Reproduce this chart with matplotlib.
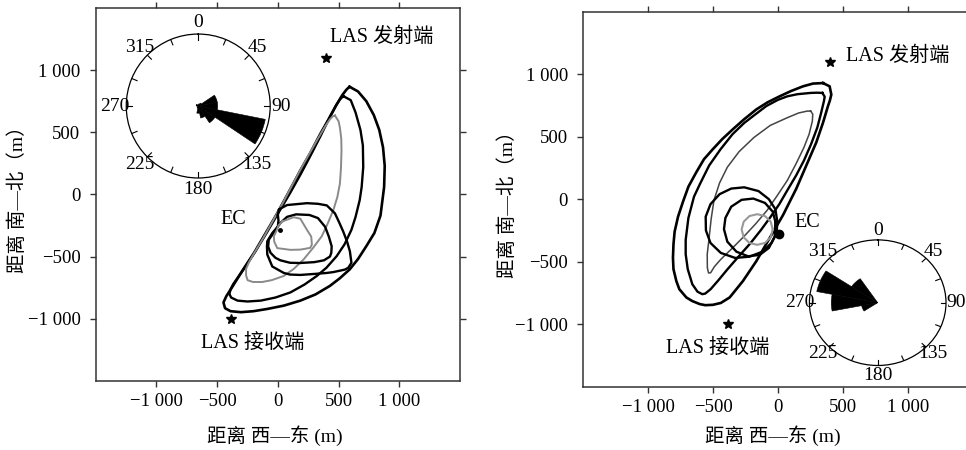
import numpy as np
import matplotlib.pyplot as plt

plt.rcParams['font.family'] = ['Liberation Serif', 'Noto Sans CJK SC']
plt.rcParams['font.size'] = 13.5

# axis ticks
ticks = [-1000, -500, 0, 500, 1000]
tick_labels = ['\u22121 000', '\u2212500', '0', '500', '1 000']

# LAS transmitter / receiver and EC tower (m)
las_tx = [400, 1100]
las_rx = [-385, -1000]
ec_a = [16, -285]
ec_b = [8, -280]

# ---- panel a : footprint contours (m) ----
a_outer_x = [590, 660, 728, 790, 835, 866, 880, 875, 845, 795, 728, 660, 592, 510, 429, 310, 185, 50, -87, -200,
             -304, -390, -435, -448, -425, -370, -290, -196, -100, -5, 90, 185, 270, 348, 420, 484, 530, 565, 590]
a_outer_y = [868, 830, 752, 640, 520, 380, 230, 60, -170, -310, -417, -520, -603, -675, -736, -805, -855, -895, -922, -940,
             -948, -940, -916, -870, -820, -736, -610, -470, -310, -151, 20, 194, 340, 486, 610, 725, 800, 845, 868]
a_mid_x = [538, 600, 640, 680, 700, 703, 690, 674, 640, 606, 550, 484, 400, 321, 220, 103, -20, -141, -250, -332,
           -385, -399, -390, -368, -287, -186, -90, 6, 101, 188, 264, 348, 427, 478, 511, 538]
a_mid_y = [793, 760, 660, 520, 395, 220, 60, -45, -180, -284, -400, -497, -590, -656, -725, -789, -830, -855, -862, -855,
           -830, -802, -765, -722, -610, -460, -305, -145, 12, 164, 304, 464, 622, 716, 765, 793]
a_gray_x = [470, 500, 511, 522, 524, 520, 511, 490, 457, 410, 361, 290, 212, 130, 49, -50, -130, -205, -250, -262,
            -262, -240, -200, -120, -40, 40, 110, 180, 260, 330, 390, 429, 450, 470]
a_gray_y = [636, 590, 539, 450, 353, 220, 88, -20, -125, -235, -337, -430, -523, -600, -656, -690, -705, -705, -690, -650,
            -600, -550, -480, -350, -210, -70, 60, 190, 330, 450, 550, 606, 628, 636]
a_ec1_x = [0, 8, 76, 240, 330, 403, 470, 505, 538, 570, 593, 606, 580, 552, 457, 403, 300, 185, 100, 49,
           -46, -87, -90, -87, -46, 0, 5, 0]
a_ec1_y = [-165, -120, -85, -70, -75, -88, -152, -225, -298, -380, -457, -550, -590, -605, -625, -632, -640, -648, -645, -632,
           -580, -484, -420, -377, -311, -258, -210, -165]
a_ec2_x = [-30, 20, 76, 150, 260, 330, 389, 420, 443, 440, 429, 380, 300, 180, 100, 20, -20, -60, -80, -75, -50, -30]
a_ec2_y = [-300, -230, -180, -160, -165, -190, -260, -340, -417, -470, -500, -530, -545, -552, -550, -530, -510, -470,
           -420, -364, -330, -300]
a_ec3_x = [35, 130, 185, 239, 275, 280, 266, 185, 104, -5, -30, -33, -10, 5, 35]
a_ec3_y = [-218, -183, -195, -284, -340, -404, -430, -444, -446, -432, -380, -337, -290, -250, -218]

# ---- panel b ----
b_outer_x = [347, 398, 411, 400, 385, 347, 295, 218, 141, 39, -64, -167, -270, -372, -440, -501, -560, -603, -660, -706,
             -760, -783, -805, -809, -805, -796, -770, -732, -690, -629, -570, -501, -430, -347, -260, -167, -80, 13,
             100, 193, 270, 347]
b_outer_y = [929, 903, 837, 790, 744, 612, 454, 269, 84, -127, -311, -496, -655, -786, -830, -845, -848, -839, -815, -786,
             -720, -655, -560, -470, -360, -259, -140, -21, 100, 216, 320, 401, 480, 560, 640, 718, 775, 823,
             865, 903, 925, 929]
b_mid_x = [342, 360, 354, 330, 303, 255, 200, 140, 72, 10, -56, -130, -211, -300, -390, -460, -519, -560, -583, -620,
           -660, -695, -711, -711, -690, -647, -600, -530, -442, -350, -260, -185, -90, 0, 72, 150, 250, 300, 342]
b_mid_y = [850, 820, 784, 680, 573, 440, 309, 190, 71, -40, -140, -245, -351, -455, -562, -650, -720, -755, -760, -740,
           -680, -560, -440, -325, -150, 20, 124, 270, 400, 520, 610, 670, 745, 795, 823, 840, 850, 852, 850]
b_gray_x = [252, 268, 265, 240, 200, 140, 72, -5, -82, -170, -262, -350, -442, -490, -519, -535, -544, -545, -532, -515,
            -493, -450, -390, -300, -185, -60, 72, 160, 226, 252]
b_gray_y = [705, 680, 625, 520, 414, 285, 150, 30, -87, -195, -298, -390, -483, -540, -589, -590, -549, -440, -325, -160,
            -8, 130, 256, 380, 494, 590, 652, 690, 705, 705]
b_ec1_x = [-5, -20, -70, -150, -260, -360, -450, -520, -557, -555, -520, -440, -330, -220, -120, -50, -10, -5]
b_ec1_y = [-180, -80, 0, 65, 95, 85, 40, -40, -140, -250, -350, -430, -470, -460, -420, -350, -270, -180]
b_ec2_x = [-20, -40, -100, -190, -280, -360, -405, -416, -390, -320, -230, -140, -70, -25, -20]
b_ec2_y = [-180, -100, -30, 5, -5, -60, -150, -240, -340, -420, -457, -445, -390, -300, -180]
b_ec3_x = [-40, -56, -100, -160, -220, -264, -280, -264, -220, -160, -100, -56, -40]
b_ec3_y = [-242, -180, -135, -120, -135, -180, -242, -305, -350, -365, -350, -305, -242]

# ---- wind roses (relative frequency) ----
rose_dirs = [0, 22.5, 45, 67.5, 90, 112.5, 135, 157.5, 180, 202.5, 225, 247.5, 270, 292.5, 315, 337.5]
rose_a = [0, 0.03, 0.05, 0.27, 0.27, 0.95, 0.28, 0.17, 0.1, 0.03, 0, 0, 0.02, 0.03, 0.03, 0]
rose_b = [0, 0, 0, 0, 0, 0, 0, 0, 0, 0, 0, 0.24, 0.68, 0.91, 0.46, 0]
rose_ticks = [0, 45, 90, 135, 180, 225, 270, 315]


def draw_main(ax, curves):
    for x, y, c, lw in curves:
        ax.plot(x, y, color=c, lw=lw, solid_joinstyle='round')
    ax.plot(*las_tx, marker='*', color='black', ms=7.5)
    ax.plot(*las_rx, marker='*', color='black', ms=7.5)
    ax.set_xlim(-1500, 1500)
    ax.set_ylim(-1500, 1500)
    ax.set_xticks(ticks, tick_labels)
    ax.set_yticks(ticks, tick_labels)
    ax.tick_params(top=True, right=True, direction='out', length=4, width=1, color='#333333')
    ax.tick_params(axis='x', pad=5)
    ax.tick_params(axis='y', pad=7)
    for s in ax.spines.values():
        s.set_color('#333333')
        s.set_linewidth(1.1)


def draw_rose(ax, vals, pad):
    th = np.deg2rad(rose_dirs)
    ax.bar(th, vals, width=np.deg2rad(22.5), bottom=0, color='black', edgecolor='black', lw=0.4)
    # short inward ticks on the rim
    for t in th:
        ax.plot([t, t], [0.92, 1.0], color='black', lw=0.8)
    ax.set_theta_zero_location('N')
    ax.set_theta_direction(-1)
    ax.set_ylim(0, 1)
    ax.set_yticks([])
    ax.set_xticks(np.deg2rad(rose_ticks), [str(t) for t in rose_ticks])
    ax.grid(False)
    ax.tick_params(axis='x', which='both', length=0, pad=pad, labelsize=14)
    ax.spines['polar'].set_linewidth(0.9)


fig = plt.figure(figsize=(9.66, 4.5), dpi=100)

ax1 = fig.add_axes([0.0991, 0.154, 0.3771, 0.8276])
draw_main(ax1, [
    (a_outer_x, a_outer_y, 'black', 1.9),
    (a_mid_x, a_mid_y, 'black', 1.7),
    (a_gray_x, a_gray_y, '#8a8a8a', 1.4),
    (a_ec1_x, a_ec1_y, 'black', 1.7),
    (a_ec2_x, a_ec2_y, 'black', 1.7),
    (a_ec3_x, a_ec3_y, '#8a8a8a', 1.4),
])
ax1.plot(*ec_a, 'o', color='black', ms=2.5)
ax1.text(430, 1270, 'LAS 发射端', ha='left', va='center', fontsize=14.5)
ax1.text(-636, -1200, 'LAS 接收端', ha='left', va='center', fontsize=14.5)
ax1.text(-370, -200, 'EC', ha='center', va='center', fontsize=14.5)
ax1.set_xlabel('距离 西—东 (m)', fontsize=14)
ax1.set_ylabel('距离 南—北（m）', fontsize=14)
ax1.xaxis.set_label_coords(0.492, -0.12)
ax1.yaxis.set_label_coords(-0.19, 0.5)

ax2 = fig.add_axes([0.6038, 0.1407, 0.4031, 0.8333])
draw_main(ax2, [
    (b_outer_x, b_outer_y, 'black', 1.9),
    (b_mid_x, b_mid_y, 'black', 1.7),
    (b_gray_x, b_gray_y, '#444444', 1.1),
    (b_ec1_x, b_ec1_y, 'black', 1.7),
    (b_ec2_x, b_ec2_y, 'black', 1.7),
    (b_ec3_x, b_ec3_y, '#999999', 1.5),
])
ax2.plot(*ec_b, 'o', color='black', ms=6)
ax2.text(521, 1140, 'LAS 发射端', ha='left', va='center', fontsize=14.5)
ax2.text(-866, -1196, 'LAS 接收端', ha='left', va='center', fontsize=14.5)
ax2.text(223, -187, 'EC', ha='center', va='center', fontsize=14.5)
ax2.set_xlabel('距离 西—东 (m)', fontsize=14)
ax2.set_ylabel('距离 南—北（m）', fontsize=14)
ax2.xaxis.set_label_coords(0.488, -0.103)
ax2.yaxis.set_label_coords(-0.17, 0.5)

r1 = fig.add_axes([0.1307, 0.6044, 0.149, 0.32], projection='polar')
draw_rose(r1, rose_a, 1)

r2 = fig.add_axes([0.8379, 0.1878, 0.1414, 0.2791], projection='polar')
r2.set_aspect('auto')
draw_rose(r2, rose_b, 0)

fig.savefig('out.png', dpi=100)
